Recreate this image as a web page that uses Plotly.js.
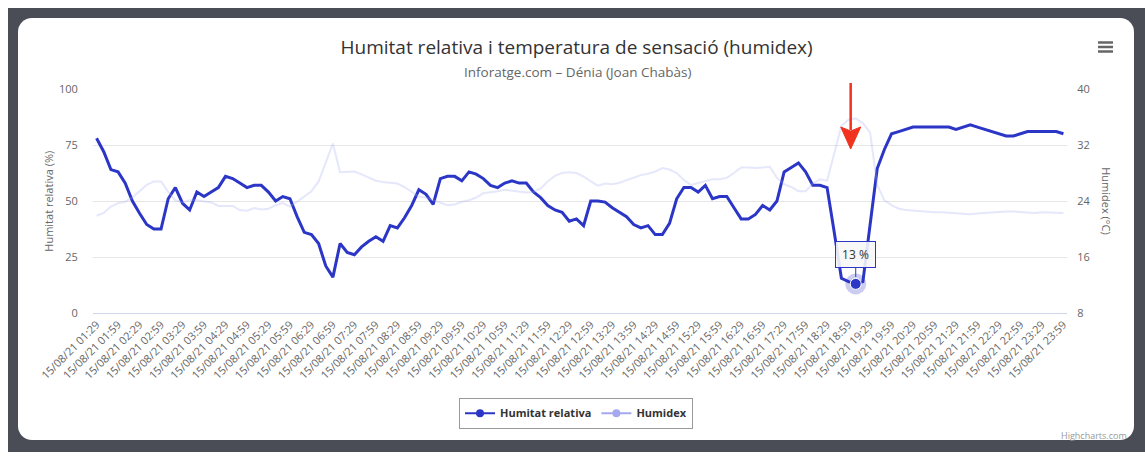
<!DOCTYPE html>
<html>
<head>
<meta charset="utf-8">
<script src="https://cdn.plot.ly/plotly-3.0.1.min.js"></script>
<style>
  html, body { margin:0; padding:0; background:#ffffff; width:1145px; height:456px; overflow:hidden; }
  #frame { position:absolute; left:8px; top:8px; width:1137px; height:444px; background:#4a4d55; }
  #card { position:absolute; left:18px; top:18px; width:1116px; height:422px; background:#ffffff; border-radius:14px; }
  #chart { position:absolute; left:0; top:0; width:1145px; height:456px; }
</style>
</head>
<body>
<div id="frame"></div>
<div id="card"></div>
<div id="chart"></div>
<script>
// ---- data ----
const datePrefix = '15/08/21 ';
const times = ['01:29','01:39','01:49','01:59',
 '02:09','02:19','02:29','02:39','02:49','02:59','03:09','03:19','03:29','03:39','03:49','03:59',
 '04:09','04:19','04:29','04:39','04:49','04:59','05:09','05:19','05:29','05:39','05:49','05:59',
 '06:09','06:19','06:29','06:39','06:49','06:59','07:09','07:19','07:29','07:39','07:49','07:59',
 '08:09','08:19','08:29','08:39','08:49','08:59','09:09','09:19','09:29','09:39','09:49','09:59',
 '10:09','10:19','10:29','10:39','10:49','10:59','11:09','11:19','11:29','11:39','11:49','11:59',
 '12:09','12:19','12:29','12:39','12:49','12:59','13:09','13:19','13:29','13:39','13:49','13:59',
 '14:09','14:19','14:29','14:39','14:49','14:59','15:09','15:19','15:29','15:39','15:49','15:59',
 '16:09','16:19','16:29','16:39','16:49','16:59','17:09','17:19','17:29','17:39','17:49','17:59',
 '18:09','18:19','18:29','18:39','18:49','18:59','19:09','19:19','19:29','19:39','19:49','19:59',
 '20:09','20:19','20:29','20:39','20:49','20:59','21:09','21:19','21:29','21:39','21:49','21:59',
 '22:09','22:19','22:29','22:39','22:49','22:59','23:09','23:19','23:29','23:39','23:49','23:59'];

const humitatRelativa = [
 78,72,64,63,58,50,44.5,39.5,37.5,37.5,
 51,56,49,46,54,52,54,56,61,60,
 58,56,57,57,54,50,52,51,43,36,
 35,31,21,16,31,27,26,29.5,32,34,
 32,39,38,42.5,48,55,53,48.5,60,61,
 61,59,63,62,60,57,56,58,59,58,
 58,54,51.5,48,46,45,41,42,39,50,
 50,49.5,47,45,43,39.5,38,39,35,35,
 40,51,56,56,54,57,51,52,52,47,
 42,42,44,48,46,50,63,65,67,63,
 57,57,56,36,15.5,14,13,14,40,64.5,
 73,80,81,82,83,83,83,83,83,83,
 82,83,84,83,82,81,80,79,79,80,
 81,81,81,81,81,80];

const humidex = [
 21.9,22.3,23.2,23.7,23.9,24.5,25.4,26.3,26.8,26.8,
 25.3,24.1,23.8,24.1,24.1,24,23.8,23.3,23.3,23.3,
 22.7,22.6,23,22.8,22.9,23.4,23.7,23.2,23.9,24.6,
 25.4,26.8,29.4,32.2,28.1,28.2,28.2,27.8,27.3,26.9,
 26.7,26.6,26.5,26,25.3,24.6,24.5,24.1,23.7,23.4,
 23.5,23.9,24.1,24.5,25.1,25.2,25.4,25.6,25.5,25.3,
 25.2,25.3,25.8,26.8,27.6,28,28.1,28,27.5,26.8,
 26.2,26.5,26.4,26.6,27,27.4,27.7,27.9,28.2,28.7,
 28.5,28,27,26.3,26.6,26.8,27.1,27.1,27.3,28,
 28.8,28.8,28.7,28.8,28.9,27.3,26.4,26,25.4,25.4,
 26.5,27.1,26.9,30.8,34.7,35.6,35.8,35.1,33.8,26.3,
 24.1,23.4,22.9,22.7,22.6,22.5,22.5,22.4,22.4,22.3,
 22.2,22.2,22.1,22.2,22.3,22.4,22.5,22.5,22.5,22.4,
 22.4,22.3,22.4,22.4,22.3,22.3];

const leftTicks = [0, 25, 50, 75, 100];
const rightTicks = [8, 16, 24, 32, 40];
const hoveredIndex = 106;  // point with the tooltip (13 %)

const seriesNames = ['Humitat relativa', 'Humidex'];
const titleText = 'Humitat relativa i temperatura de sensació (humidex)';
const subtitleText = 'Inforatge.com – Dénia (Joan Chabàs)';
const leftTitle = 'Humitat relativa (%)';
const rightTitle = 'Humidex (°C)';

// ---- build ----
const categories = times.map(t => datePrefix + t);
const tickLabels = categories.filter((c, i) => i % 3 === 0);

const dark = '#2b36c6';
const lav = '#a3a8f0';
const lavFaint = 'rgba(163,168,240,0.28)';

const traces = [
  { x: categories, y: humidex, yaxis: 'y2', type: 'scatter', mode: 'lines',
    line: { color: lavFaint, width: 2 }, showlegend: false, hoverinfo: 'skip' },
  { x: categories, y: humitatRelativa, type: 'scatter', mode: 'lines',
    line: { color: dark, width: 3 }, showlegend: false, hoverinfo: 'skip' },
  { x: [categories[hoveredIndex]], y: [humitatRelativa[hoveredIndex]], type: 'scatter', mode: 'markers',
    marker: { size: 21, color: 'rgba(43,54,198,0.25)' }, showlegend: false, hoverinfo: 'skip' },
  { x: [categories[hoveredIndex]], y: [humitatRelativa[hoveredIndex]], type: 'scatter', mode: 'markers',
    marker: { size: 11, color: dark, line: { color: '#ffffff', width: 1 } }, showlegend: false, hoverinfo: 'skip' },
  { x: [null], y: [null], type: 'scatter', mode: 'lines+markers', name: '<b>' + seriesNames[0] + '</b>',
    line: { color: dark, width: 2 }, marker: { size: 8, color: dark } },
  { x: [null], y: [null], type: 'scatter', mode: 'lines+markers', name: '<b>' + seriesNames[1] + '</b>',
    line: { color: lav, width: 2 }, marker: { size: 8, color: lav } }
];

const red = '#f0321e';
const layout = {
  width: 1145, height: 456,
  margin: { l: 93, r: 78, t: 89, b: 143, pad: 0 },
  paper_bgcolor: 'rgba(0,0,0,0)', plot_bgcolor: 'rgba(0,0,0,0)',
  font: { family: '"Open Sans", sans-serif', color: '#666666', size: 11 },
  title: { text: titleText, font: { size: 19, color: '#333333' }, x: 0.4965, xref: 'paper',
           y: 1 - 47 / 456, yref: 'container', yanchor: 'middle' },
  hovermode: false,
  showlegend: true,
  legend: { orientation: 'h', x: 0.4959, xanchor: 'center', y: -0.378, yanchor: 'top',
            bordercolor: '#999999', borderwidth: 1, bgcolor: 'rgba(255,255,255,0)',
            font: { size: 11, color: '#333333' }, itemwidth: 30, tracegroupgap: 0 },
  xaxis: { type: 'category', range: [-0.5, categories.length - 0.5], tickmode: 'array',
           tickvals: tickLabels, ticktext: tickLabels, tickangle: -45,
           tickfont: { size: 11, color: '#666666' }, showgrid: false, zeroline: false,
           showline: true, linecolor: '#ccd6eb', linewidth: 1, ticks: '', fixedrange: true },
  yaxis: { range: [0, 100], tickmode: 'array', tickvals: leftTicks, showgrid: true,
           gridcolor: '#e6e6e6', gridwidth: 1, zeroline: false, showline: false,
           ticks: 'outside', ticklen: 12, tickcolor: 'rgba(0,0,0,0)',
           tickfont: { size: 11, color: '#666666' }, fixedrange: true },
  yaxis2: { overlaying: 'y', side: 'right', range: [8, 40], tickmode: 'array', tickvals: rightTicks,
            showgrid: false, zeroline: false, showline: false,
            ticks: 'outside', ticklen: 7, tickcolor: 'rgba(0,0,0,0)',
            tickfont: { size: 11, color: '#666666' }, fixedrange: true },
  annotations: [
    { text: subtitleText, xref: 'paper', yref: 'paper', x: 0.4979, y: 1.078, xanchor: 'center', yanchor: 'middle',
      showarrow: false, font: { size: 13.5, color: '#666666' } },
    { text: leftTitle, xref: 'paper', yref: 'paper', x: -0.0465, y: 0.5, xanchor: 'center', yanchor: 'middle',
      textangle: -90, showarrow: false, font: { size: 11, color: '#666666' } },
    { text: rightTitle, xref: 'paper', yref: 'paper', x: 1.0408, y: 0.5, xanchor: 'center', yanchor: 'middle',
      textangle: 90, showarrow: false, font: { size: 11, color: '#666666' } },
    { text: 'Highcharts.com', xref: 'paper', yref: 'paper', x: 1.0635, y: -0.545, xanchor: 'right', yanchor: 'middle',
      showarrow: false, font: { size: 9, color: '#999999' } },
    { text: humitatRelativa[hoveredIndex] + ' %', x: categories[hoveredIndex], y: humitatRelativa[hoveredIndex],
      xref: 'x', yref: 'y', showarrow: true, arrowhead: 0, arrowwidth: 1, arrowcolor: dark,
      ax: 0, ay: -29, standoff: 7, bordercolor: dark, borderwidth: 1, borderpad: 4,
      bgcolor: 'rgba(247,247,247,0.9)', width: 31, height: 17, font: { size: 12, color: '#333333' } }
  ],
  shapes: [
    // red arrow (drawn over the image)
    { type: 'line', xref: 'paper', yref: 'paper', x0: 0.7779, x1: 0.7779, y0: 1.0268, y1: 0.817,
      line: { color: red, width: 2.5 } },
    { type: 'path', xref: 'paper', yref: 'paper',
      path: 'M 0.7779 0.7321 L 0.7677 0.8304 L 0.7779 0.8125 L 0.7882 0.8304 Z',
      fillcolor: red, line: { color: red, width: 1 } },
    // menu icon
    { type: 'line', xref: 'paper', yref: 'paper', x0: 1.0318, x1: 1.0472, y0: 1.2076, y1: 1.2076,
      line: { color: '#666666', width: 2.5 } },
    { type: 'line', xref: 'paper', yref: 'paper', x0: 1.0318, x1: 1.0472, y0: 1.1875, y1: 1.1875,
      line: { color: '#666666', width: 2.5 } },
    { type: 'line', xref: 'paper', yref: 'paper', x0: 1.0318, x1: 1.0472, y0: 1.1674, y1: 1.1674,
      line: { color: '#666666', width: 2.5 } }
  ]
};

Plotly.newPlot('chart', traces, layout, { displayModeBar: false, staticPlot: true });
</script>
</body>
</html>
